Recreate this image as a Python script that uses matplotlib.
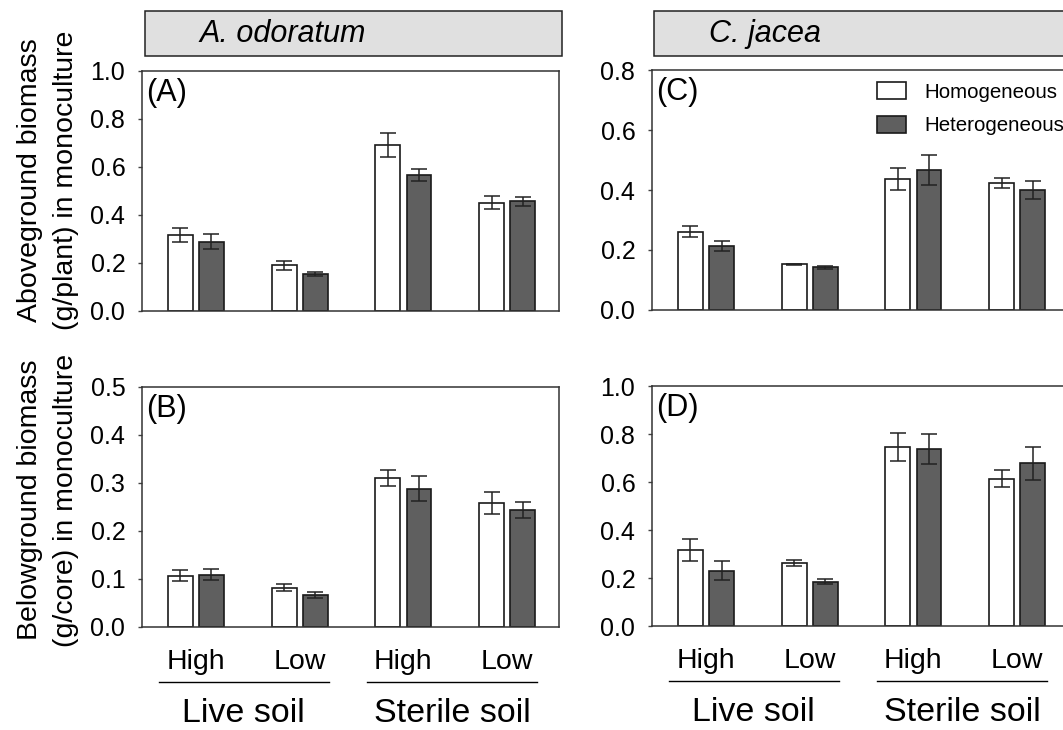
import numpy as np
import matplotlib
matplotlib.use("Agg")
import matplotlib.pyplot as plt
from matplotlib.patches import Rectangle, Patch
from matplotlib.lines import Line2D

plt.rcParams['font.family'] = ['Liberation Sans', 'DejaVu Sans']

# ===============================
# Data
# ===============================
GROUPS = ["High", "Low", "High", "Low"]
SOILS = ["Live soil", "Sterile soil"]

# A. odoratum aboveground (A)
a_homo = [0.315, 0.190, 0.693, 0.451]
a_homo_se = [0.029, 0.018, 0.050, 0.028]
a_het = [0.289, 0.155, 0.567, 0.457]
a_het_se = [0.030, 0.009, 0.026, 0.020]

# A. odoratum belowground (B)
b_homo = [0.107, 0.082, 0.311, 0.258]
b_homo_se = [0.012, 0.007, 0.017, 0.023]
b_het = [0.109, 0.067, 0.288, 0.244]
b_het_se = [0.012, 0.006, 0.026, 0.017]

# C. jacea aboveground (C)
c_homo = [0.261, 0.152, 0.437, 0.423]
c_homo_se = [0.019, 0.002, 0.036, 0.018]
c_het = [0.213, 0.142, 0.466, 0.401]
c_het_se = [0.016, 0.005, 0.050, 0.030]

# C. jacea belowground (D)
d_homo = [0.317, 0.262, 0.747, 0.614]
d_homo_se = [0.046, 0.014, 0.058, 0.035]
d_het = [0.230, 0.185, 0.737, 0.678]
d_het_se = [0.039, 0.012, 0.064, 0.069]

HOMO_COLOR = "white"
HET_COLOR = "#5f5f5f"
EDGE = "#1a1a1a"

fig = plt.figure(figsize=(10.63, 7.30), dpi=100)

W = 417 / 1063
H = 240 / 730
axA = fig.add_axes([142 / 1063, 1 - 311 / 730, W, H])
axC = fig.add_axes([652 / 1063, 1 - 310 / 730, W, H])
axB = fig.add_axes([142 / 1063, 1 - 627 / 730, W, H])
axD = fig.add_axes([652 / 1063, 1 - 626 / 730, W, H])

panels = [
    (axA, a_homo, a_homo_se, a_het, a_het_se, 1.0, 0.2, "(A)", False),
    (axC, c_homo, c_homo_se, c_het, c_het_se, 0.8, 0.2, "(C)", False),
    (axB, b_homo, b_homo_se, b_het, b_het_se, 0.5, 0.1, "(B)", True),
    (axD, d_homo, d_homo_se, d_het, d_het_se, 1.0, 0.2, "(D)", True),
]

x = np.arange(len(GROUPS))
bw = 0.24
off = 0.15
err_style = dict(ecolor="#222222", elinewidth=1.1, capsize=6, capthick=1.1)

for ax, homo, homo_se, het, het_se, ymax, step, tag, bottom in panels:
    ax.bar(x - off, homo, bw, color=HOMO_COLOR, edgecolor=EDGE, linewidth=1.2,
           yerr=homo_se, error_kw=err_style)
    ax.bar(x + off, het, bw, color=HET_COLOR, edgecolor=EDGE, linewidth=1.2,
           yerr=het_se, error_kw=err_style)
    ax.set_xlim(-0.52, 3.5)
    ax.set_ylim(0, ymax)
    ticks = np.arange(0, ymax + step / 2, step)
    ax.set_yticks(ticks)
    ax.set_yticklabels([f"{v:.1f}" for v in ticks])
    ax.tick_params(axis="y", direction="out", length=3, width=1, labelsize=18, pad=9, color="#444444")
    for s in ax.spines.values():
        s.set_color("#333333")
        s.set_linewidth(1.1)
    ax.text(0.01, 0.97, tag, transform=ax.transAxes, ha="left", va="top", fontsize=22)
    if bottom:
        ax.set_xticks(x)
        ax.set_xticklabels(GROUPS, fontsize=20.5)
        ax.tick_params(axis="x", length=0, pad=16)
        # soil group lines + labels
        for (x0, x1), name in zip([(-0.36, 1.28), (1.65, 3.29)], SOILS):
            ax.add_line(Line2D([x0, x1], [-0.229, -0.229], color="black", linewidth=1,
                               transform=ax.get_xaxis_transform(), clip_on=False))
            ax.text((x0 + x1) / 2, -0.36, name, transform=ax.get_xaxis_transform(),
                    ha="center", va="center", fontsize=24.5)
    else:
        ax.set_xticks([])

# legend in panel C
handles = [Patch(facecolor=HOMO_COLOR, edgecolor=EDGE, linewidth=1.2, label="Homogeneous"),
           Patch(facecolor=HET_COLOR, edgecolor=EDGE, linewidth=1.2, label="Heterogeneous")]
axC.legend(handles=handles, loc="upper left", bbox_to_anchor=(0.54, 0.948), frameon=False,
           fontsize=14.8, handlelength=1.41, handleheight=0.88, handletextpad=0.88,
           borderpad=0, borderaxespad=0, labelspacing=0.68)

# species header boxes
for x0, x1, name in [(145, 562, "A. odoratum"), (654, 1080, "C. jacea")]:
    fig.patches.append(Rectangle((x0 / 1063, 1 - 56 / 730), (x1 - x0) / 1063, 45 / 730,
                                 transform=fig.transFigure, facecolor="#e0e0e0",
                                 edgecolor="#222222", linewidth=1.1))
    fig.text((x0 + 55) / 1063, 1 - 34 / 730, name, ha="left", va="center",
             fontsize=22, style="italic")

# y labels
fig.text(30 / 1063, 1 - 180 / 730, "Aboveground biomass", rotation=90,
         ha="center", va="center", fontsize=20.5)
fig.text(66 / 1063, 1 - 180 / 730, "(g/plant) in monoculture", rotation=90,
         ha="center", va="center", fontsize=20.5)
fig.text(30 / 1063, 1 - 500 / 730, "Belowground biomass", rotation=90,
         ha="center", va="center", fontsize=20.5)
fig.text(66 / 1063, 1 - 500 / 730, "(g/core) in monoculture", rotation=90,
         ha="center", va="center", fontsize=20.5)

fig.savefig("out.png", dpi=100)
